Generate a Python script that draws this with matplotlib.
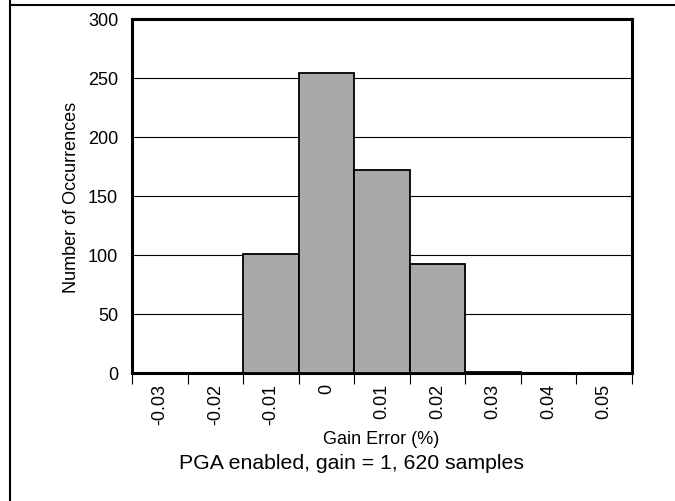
import numpy as np
import matplotlib
matplotlib.use("Agg")
import matplotlib.pyplot as plt
from matplotlib.lines import Line2D

plt.rcParams['font.family'] = ['Liberation Sans', 'DejaVu Sans']

# --- data ---
categories = ["-0.03", "-0.02", "-0.01", "0", "0.01", "0.02", "0.03", "0.04", "0.05"]
counts = [0, 0, 101, 254, 172, 92, 1, 0, 0]
yticks = [0, 50, 100, 150, 200, 250, 300]

fig = plt.figure(figsize=(6.75, 5.02), dpi=100)
ax = fig.add_axes([132/675, 1 - 374/502, (632 - 132)/675, (374 - 20)/502])

x = np.arange(len(categories))
ax.bar(x, counts, width=1.0, color="#A9A9A9", edgecolor="black", linewidth=1.3, zorder=3)

ax.set_xlim(-0.5, len(categories) - 0.5)
ax.set_ylim(0, 300)
ax.set_yticks(yticks)
ax.yaxis.grid(True, color="black", linewidth=0.8, zorder=0)
ax.tick_params(axis="y", length=0, pad=10, labelsize=13)

# ticks at category boundaries, labels centered in categories
ax.set_xticks(np.arange(len(categories) + 1) - 0.5)
ax.set_xticklabels([])
ax.set_xticks(x, minor=True)
ax.set_xticklabels(categories, minor=True, rotation=90, fontsize=13)
ax.tick_params(axis="x", which="major", length=8, width=0.8, direction="out")
ax.tick_params(axis="x", which="minor", length=0, pad=7)

for s in ax.spines.values():
    s.set_linewidth(2.2)

ax.set_ylabel("Number of Occurrences", fontsize=13)
ax.yaxis.set_label_coords(-(132 - 80) / 500, 0.5)
ax.set_xlabel("Gain Error (%)", fontsize=13)
ax.xaxis.set_label_coords((381 - 132) / 500, -(431 - 374) / 354)
fig.text(352/675, 1 - 464/502, "PGA enabled, gain = 1, 620 samples",
         ha="center", va="center", fontsize=15.3)

# outer frame lines
fig.add_artist(Line2D([10/675, 10/675], [0, 1], color="black", linewidth=1.5, transform=fig.transFigure))
fig.add_artist(Line2D([10/675, 1], [1 - 6/502, 1 - 6/502], color="black", linewidth=1.5, transform=fig.transFigure))

fig.savefig("out.png", dpi=100)
